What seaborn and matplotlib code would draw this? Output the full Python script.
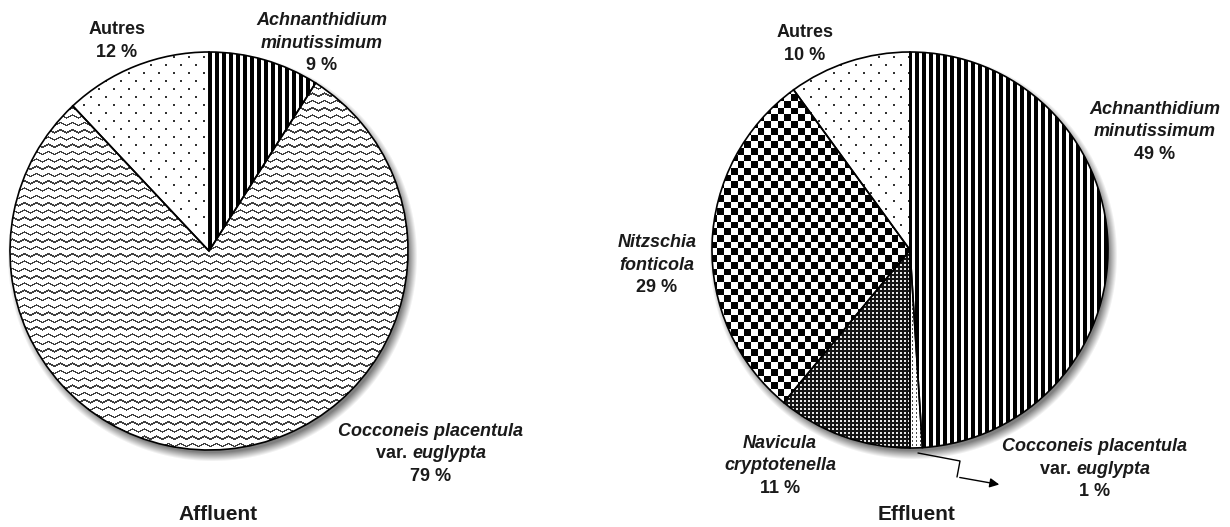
import numpy as np
import matplotlib
matplotlib.use("Agg")
import matplotlib.pyplot as plt
import seaborn as sns
from matplotlib.offsetbox import TextArea, HPacker, VPacker, AnnotationBbox

# data (% of valves)
affluent_taxa = ["Achnanthidium minutissimum", "Cocconeis placentula var. euglypta", "Autres"]
affluent_pct = [9, 79, 12]
effluent_taxa = ["Achnanthidium minutissimum", "Cocconeis placentula var. euglypta",
                 "Navicula cryptotenella", "Nitzschia fonticola", "Autres"]
effluent_pct = [49, 1, 11, 29, 10]
titles = ["Affluent", "Effluent"]

# how each taxon name is written: lines of (text, italic)
name_lines = {
    "Achnanthidium minutissimum": [[("Achnanthidium", True)], [("minutissimum", True)]],
    "Cocconeis placentula var. euglypta": [[("Cocconeis placentula", True)],
                                           [("var. ", False), ("euglypta", True)]],
    "Navicula cryptotenella": [[("Navicula", True)], [("cryptotenella", True)]],
    "Nitzschia fonticola": [[("Nitzschia", True)], [("fonticola", True)]],
    "Autres": [[("Autres", False)]],
}

W, H = 1230, 527
sns.set_theme(style="white")
plt.rcParams["font.family"] = ["Liberation Sans", "DejaVu Sans"]
TXT = "#1a1a1a"

fig = plt.figure(figsize=(W / 100, H / 100), dpi=100)
ax = fig.add_axes([0, 0, 1, 1])
ax.set_xlim(0, W)
ax.set_ylim(0, H)
ax.set_aspect("equal")
ax.axis("off")


def Y(y):
    return H - y


# fill textures, in pixel space
yy, xx = np.mgrid[0:H, 0:W].astype(float)
tex_stripes = np.where((xx - 208) % 7 < 3.2, 0.0, 1.0)
row = np.floor(yy / 8)
tex_dots = np.where(((yy % 8) < 1.6) & (((xx - (row % 2) * 7.5) % 15) < 1.6), 0.2, 1.0)
tri = np.abs(((xx / 12) % 1) - 0.5) * 2
tex_waves = np.where(((yy + 3.0 * tri) % 7.3) < 1.7, 0.25, 1.0)
tex_checker = ((xx // 6.7 + yy // 6.7) % 2).astype(float)
tex_mesh = np.where(((xx % 4) < 2) & ((yy % 4) < 2), 0.9, 0.08)
tex_fine = np.where(((yy % 4) < 2) & ((xx % 4) < 1), 0.3, 1.0)

textures = {
    "affluent": {"Achnanthidium minutissimum": tex_stripes,
                 "Cocconeis placentula var. euglypta": tex_waves,
                 "Autres": tex_dots},
    "effluent": {"Achnanthidium minutissimum": tex_stripes,
                 "Cocconeis placentula var. euglypta": tex_fine,
                 "Navicula cryptotenella": tex_mesh,
                 "Nitzschia fonticola": tex_checker,
                 "Autres": tex_dots},
}

pies = [
    dict(key="affluent", taxa=affluent_taxa, pct=affluent_pct, cx=209, cy=251, r=199,
         title_xy=(218, 515),
         label_xy=[(322, 43), (431, 454), (117, 41)]),
    dict(key="effluent", taxa=effluent_taxa, pct=effluent_pct, cx=910, cy=250, r=198,
         title_xy=(917, 515),
         label_xy=[(1155, 132), (1095, 469), (780, 466), (657, 265), (805, 44)]),
]

# soft drop shadow under both pies
shadow = np.zeros((H, W, 4))
for p in pies:
    d = np.hypot(xx - (p["cx"] + 3), yy - (p["cy"] + 5))
    a = np.clip((p["r"] + 6 - d) / 9, 0, 1) * 0.5
    shadow[..., 3] = np.maximum(shadow[..., 3], a)
ax.imshow(shadow, extent=(0, W, 0, H), origin="upper", zorder=1, interpolation="bilinear")


def label_box(lines, size=13):
    rows = []
    for ln in lines:
        parts = [TextArea(t, textprops=dict(fontsize=size, fontweight="bold", color=TXT,
                                            fontstyle="italic" if it else "normal"))
                 for t, it in ln]
        rows.append(HPacker(children=parts, pad=0, sep=0, align="baseline"))
    return VPacker(children=rows, pad=0, sep=4, align="center")


for i, p in enumerate(pies):
    wedges, _ = ax.pie(p["pct"], radius=p["r"], center=(p["cx"], Y(p["cy"])),
                       startangle=90, counterclock=False, frame=True,
                       wedgeprops=dict(edgecolor="black", linewidth=1.2))
    for w, taxon, pct, (lx, ly) in zip(wedges, p["taxa"], p["pct"], p["label_xy"]):
        im = ax.imshow(textures[p["key"]][taxon], extent=(0, W, 0, H), origin="upper",
                       cmap="gray", vmin=0, vmax=1, interpolation="nearest", zorder=3)
        im.set_clip_path(w)
        w.set_facecolor("none")
        w.set_zorder(4)
        lines = name_lines[taxon] + [[(f"{pct} %", False)]]
        ab = AnnotationBbox(label_box(lines), (lx, Y(ly)), frameon=False,
                            box_alignment=(0.5, 0.5), pad=0, zorder=5)
        ax.add_artist(ab)
    tx, ty = p["title_xy"]
    ax.text(tx, Y(ty), titles[i], ha="center", va="center",
            fontsize=15, fontweight="bold", color=TXT)

# leader arrow for the 1 % slice
ax.plot([918, 960, 957], [Y(453), Y(461), Y(477)], color="black", lw=1, zorder=5)
ax.annotate("", xy=(1002, Y(485)), xytext=(957, Y(477)),
            arrowprops=dict(arrowstyle="-|>", color="black", lw=1, mutation_scale=14))

ax.set_xlim(0, W)
ax.set_ylim(0, H)
ax.axis("off")
fig.savefig("out.png", dpi=100)
